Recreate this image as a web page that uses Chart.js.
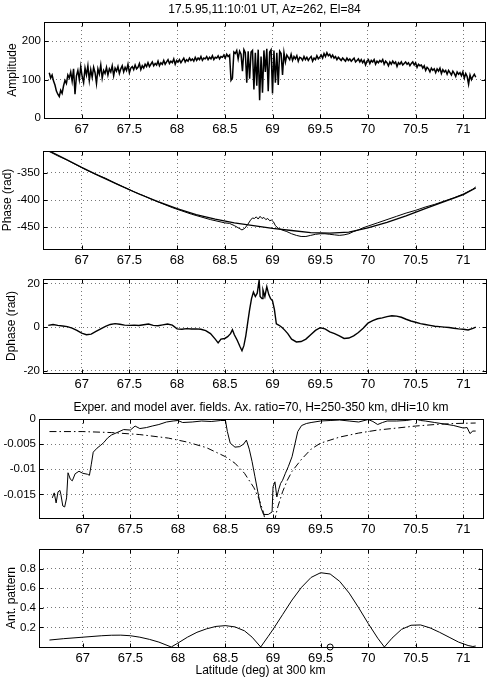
<!DOCTYPE html>
<html>
<head>
<meta charset="utf-8">
<title>Amplitude / phase / field / antenna pattern</title>
<script src="https://cdn.jsdelivr.net/npm/chart.js@4.4.1/dist/chart.umd.min.js"></script>
<style>
  html, body { margin: 0; padding: 0; background: #fff; }
  #figure { position: relative; width: 493px; height: 681px; background: #fff; overflow: hidden; }
  #figure canvas { position: absolute; left: 0; }
</style>
</head>
<body>
<div id="figure">
  <canvas id="ampChart" width="493" height="140" style="top:0px"></canvas>
  <canvas id="phaseChart" width="493" height="130" style="top:140px"></canvas>
  <canvas id="dphaseChart" width="493" height="130" style="top:270px"></canvas>
  <canvas id="fieldChart" width="493" height="140" style="top:400px"></canvas>
  <canvas id="antChart" width="493" height="141" style="top:540px"></canvas>
</div>
<script>
/* ~~~~~~~~~~ DATA ~~~~~~~~~~*/

const latTicks = [67, 67.5, 68, 68.5, 69, 69.5, 70, 70.5, 71];

// amplitude, sampled evenly from ampLatStart to ampLatEnd
const ampLatStart = 66.66;
const ampLatEnd = 71.13;
const ampValues = [
  118, 104, 112, 96, 86, 70, 62, 56, 72, 64,
  84, 98, 90, 112, 104, 120, 96, 128, 62, 110,
  124, 100, 134, 108, 92, 130, 112, 136, 98, 126,
  106, 132, 118, 90, 128, 114, 138, 104, 124, 116,
  132, 112, 128, 120, 136, 110, 130, 122, 134, 116,
  128, 136, 120, 132, 124, 140, 118, 130, 134, 126,
  138, 128, 132, 142, 126, 136, 130, 140, 134, 144,
  134, 140, 146, 136, 142, 138, 148, 136, 144, 140,
  150, 140, 146, 152, 142, 148, 144, 154, 140, 150,
  146, 152, 144, 150, 156, 146, 152, 148, 156, 150,
  154, 148, 158, 150, 156, 152, 160, 150, 156, 154,
  160, 152, 158, 154, 162, 152, 158, 156, 162, 154,
  160, 158, 164, 156, 166, 160, 164, 98, 104, 172,
  168, 176, 154, 174, 166, 122, 178, 170, 92, 174,
  102, 172, 176, 74, 170, 84, 178, 46, 160, 66,
  176, 120, 180, 70, 172, 178, 64, 176, 92, 170,
  86, 174, 168, 112, 170, 146, 164, 158, 152, 166,
  150, 160, 154, 162, 148, 158, 156, 150, 160, 152,
  158, 150, 156, 160, 148, 156, 152, 162, 154, 158,
  164, 156, 168, 160, 170, 162, 166, 158, 164, 156,
  160, 152, 158, 154, 150, 156, 152, 148, 156, 150,
  154, 148, 152, 156, 146, 150, 154, 146, 152, 144,
  150, 138, 148, 152, 142, 150, 146, 152, 140, 148,
  144, 150, 146, 152, 140, 148, 144, 136, 146, 140,
  148, 142, 146, 134, 144, 140, 146, 138, 142, 146,
  140, 144, 136, 142, 146, 138, 144, 132, 140, 136,
  138, 130, 136, 124, 132, 128, 120, 130, 124, 128,
  118, 128, 122, 130, 116, 126, 120, 124, 114, 124,
  118, 112, 122, 116, 108, 120, 114, 118, 110, 120,
  104, 116, 108, 88, 112, 100, 108, 114, 106
];
const ampTicks = [0, 100, 200];

const phaseLat = [
  66.65, 66.75, 66.85, 66.95, 67.05, 67.15, 67.25, 67.35, 67.45, 67.55,
  67.65, 67.75, 67.85, 67.95, 68.05, 68.15, 68.25, 68.35, 68.45, 68.5,
  68.55, 68.6, 68.65, 68.68, 68.71, 68.74, 68.77, 68.79, 68.81, 68.83,
  68.85, 68.87, 68.89, 68.91, 68.93, 68.95, 68.97, 68.99, 69.01, 69.03,
  69.06, 69.1, 69.15, 69.2, 69.25, 69.3, 69.35, 69.4, 69.45, 69.5,
  69.55, 69.6, 69.65, 69.7, 69.75, 69.8, 69.85, 69.9, 69.95, 70.0,
  70.1, 70.2, 70.3, 70.4, 70.5, 70.6, 70.7, 70.8, 70.9, 71.0,
  71.1, 71.13
];
const phaseMeasured = [
  -310, -319, -327, -336, -345, -353, -360, -369, -377, -385,
  -392, -400, -407, -414, -420, -426, -431, -436, -440, -442,
  -443, -447, -452, -455, -452, -445, -437, -433, -434, -431,
  -435, -430, -434, -432, -436, -434, -438, -437, -440, -447,
  -452, -455, -458, -462, -465, -467, -467, -465, -463, -462,
  -462, -463, -464, -465, -464, -462, -458, -455, -451, -448,
  -442, -436, -430, -424, -419, -413, -408, -402, -396, -389,
  -380, -376
];
const phaseModelLat = [
  66.65, 66.8, 67.0, 67.2, 67.4, 67.6, 67.8, 68.0, 68.2, 68.4,
  68.6, 68.8, 69.0, 69.2, 69.4, 69.6, 69.8, 70.0, 70.2, 70.4,
  70.6, 70.8, 71.0, 71.13
];
const phaseModel = [
  -309, -322, -340, -357, -373, -389, -403, -416, -427, -435,
  -442, -447, -452, -456, -460, -461, -459, -451, -441, -429,
  -416, -403, -390, -378
];
const phaseTicks = [-450, -400, -350];

const dphaseLat = [
  66.65, 66.7, 66.75, 66.8, 66.85, 66.9, 66.95, 67.0, 67.05, 67.1,
  67.15, 67.2, 67.25, 67.3, 67.35, 67.4, 67.45, 67.5, 67.55, 67.6,
  67.65, 67.7, 67.75, 67.8, 67.85, 67.9, 67.95, 68.0, 68.05, 68.1,
  68.15, 68.2, 68.25, 68.3, 68.35, 68.4, 68.43, 68.46, 68.5, 68.53,
  68.56, 68.58, 68.6, 68.63, 68.66, 68.68, 68.7, 68.72, 68.74, 68.76,
  68.78, 68.8, 68.82, 68.84, 68.86, 68.87, 68.89, 68.9, 68.92, 68.94,
  68.96, 68.98, 69.0, 69.02, 69.04, 69.06, 69.08, 69.1, 69.13, 69.16,
  69.2, 69.25, 69.3, 69.35, 69.4, 69.45, 69.5, 69.55, 69.6, 69.65,
  69.7, 69.75, 69.8, 69.85, 69.9, 69.95, 70.0, 70.05, 70.1, 70.15,
  70.2, 70.25, 70.3, 70.35, 70.4, 70.45, 70.5, 70.55, 70.6, 70.65,
  70.7, 70.75, 70.8, 70.85, 70.9, 70.95, 71.0, 71.05, 71.1, 71.13
];
const dphaseValues = [
  0.8, 1.2, 0.8, 0.5, 0.2, -0.5, -1.5, -2.8, -3.5, -3.2,
  -2, -0.8, 0.3, 1.2, 1.6, 1.3, 0.9, 0.8, 0.9, 0.7,
  1.1, 1.4, 0.8, 0.6, 1, 1.4, 0.9, -0.8, -1, -0.7,
  -0.9, -0.8, -1, -1.6, -3, -5.5, -7.2, -5.5, -5.2, -4.4,
  -3, -1.2, -3.5, -6, -9, -10.8, -8.5, -4, 2, 8,
  13, 16, 14, 15.5, 21.5, 14, 13, 17, 14, 18.5,
  15, 13, 12, 8, 1.5, 1, 0.5, -0.2, -1.5, -3,
  -5.5, -6.8, -6.6, -5.5, -3.5, -1.5, -0.3, -0.8, -2.2, -3,
  -4, -5.2, -5, -4, -2.5, -0.5, 1.8, 3, 3.8, 4.2,
  4.8, 5.2, 5, 4.5, 3.6, 2.8, 2.2, 1.6, 1.2, 0.8,
  0.4, 0.2, 0, -0.2, -0.5, -0.8, -1, -1.3, -0.6, 0
];
const dphaseTicks = [-20, 0, 20];

const fieldLat = [
  66.68, 66.7, 66.72, 66.74, 66.76, 66.77, 66.79, 66.81, 66.83, 66.845,
  66.87, 66.89, 66.92, 66.96, 67.0, 67.05, 67.07, 67.09, 67.11, 67.15,
  67.19, 67.22, 67.26, 67.3, 67.36, 67.43, 67.5, 67.55, 67.6, 67.67,
  67.73, 67.8, 67.88, 67.95, 68.0, 68.05, 68.15, 68.25, 68.35, 68.45,
  68.5, 68.52, 68.55, 68.6, 68.65, 68.69, 68.72, 68.75, 68.78, 68.81,
  68.84, 68.87, 68.9, 68.95, 68.99, 69.0, 69.02, 69.04, 69.06, 69.08,
  69.1, 69.13, 69.16, 69.2, 69.23, 69.26, 69.3, 69.35, 69.4, 69.5,
  69.6, 69.7, 69.8, 69.9, 70.0, 70.05, 70.1, 70.15, 70.2, 70.3,
  70.4, 70.5, 70.55, 70.6, 70.7, 70.8, 70.9, 71.0, 71.04, 71.07,
  71.1, 71.13
];
const fieldMeasured = [
  -0.0157, -0.0147, -0.0167, -0.0145, -0.0142, -0.015, -0.0173, -0.0175, -0.0157, -0.0107,
  -0.012, -0.0123, -0.0109, -0.0104, -0.0108, -0.011, -0.0112, -0.009, -0.0066, -0.0058,
  -0.0052, -0.0047, -0.0038, -0.0032, -0.0027, -0.0021, -0.0022, -0.0014, -0.0019, -0.0017,
  -0.0014, -0.0011, -0.0006, -0.0004, -0.0003, -0.0007, -0.0006, -0.0004, -0.0005, -0.0003,
  -0.0003, -0.0025, -0.0048, -0.0056, -0.0055, -0.005, -0.0042, -0.006, -0.0085, -0.0115,
  -0.0145, -0.0175, -0.019, -0.019, -0.0185, -0.0135, -0.0125, -0.0155, -0.014, -0.0128,
  -0.0122, -0.0108, -0.0095, -0.0075, -0.005, -0.0025, -0.0013, -0.0009, -0.0007, -0.0004,
  -0.0003, -0.0002, -0.0004, -0.0006, -0.0001, -0.0005, -0.0011, -0.0007, -0.0004, -0.0004,
  -0.0003, 0, -0.0003, -0.0004, -0.0007, -0.001, -0.0013, -0.0018, -0.0017, -0.0029,
  -0.0024, -0.0024
];
const fieldModelLat = [
  66.65, 67.0, 67.3, 67.6, 67.9, 68.1, 68.3, 68.5, 68.6, 68.7,
  68.8, 68.85, 68.9, 68.95, 69.0, 69.05, 69.1, 69.15, 69.2, 69.3,
  69.4, 69.5, 69.7, 69.9, 70.1, 70.3, 70.5, 70.7, 70.9, 71.13
];
const fieldModel = [
  -0.0025, -0.0025, -0.0027, -0.0031, -0.0038, -0.0046, -0.0057, -0.0075, -0.0088, -0.0108,
  -0.0137, -0.0158, -0.0186, -0.0235, -0.0215, -0.0175, -0.0145, -0.0122, -0.0104, -0.008,
  -0.006, -0.0048, -0.0036, -0.0028, -0.0022, -0.0018, -0.0014, -0.0011, -0.0009, -0.0008
];
const fieldTicks = [-0.015, -0.01, -0.005, 0];

const antLat = [
  66.65, 66.8, 67.0, 67.2, 67.3, 67.4, 67.5, 67.6, 67.7, 67.8,
  67.93, 68.0, 68.1, 68.2, 68.3, 68.4, 68.5, 68.6, 68.7, 68.78,
  68.87, 68.95, 69.0, 69.1, 69.2, 69.3, 69.4, 69.5, 69.6, 69.7,
  69.8, 69.9, 70.0, 70.1, 70.17, 70.25, 70.35, 70.45, 70.55, 70.65,
  70.75, 70.85, 70.95, 71.05, 71.1, 71.13
];
const antValues = [
  0.071, 0.085, 0.1, 0.115, 0.12, 0.121, 0.115, 0.1, 0.078, 0.05,
  0, 0.04, 0.1, 0.15, 0.185, 0.21, 0.218, 0.205, 0.165, 0.1,
  0, 0.11, 0.18, 0.33, 0.48, 0.61, 0.71, 0.758, 0.745, 0.67,
  0.55, 0.4, 0.24, 0.09, 0, 0.09, 0.18, 0.222, 0.225, 0.195,
  0.15, 0.1, 0.05, 0.015, 0.005, 0.01
];
const antMarkerLat = [69.6];
const antMarkerValue = [0];
const antTicks = [0.2, 0.4, 0.6, 0.8];

/* ~~~~~~~~~~ HELPERS ~~~~~~~~~~*/

Chart.defaults.font.family = "'Liberation Sans', Arial, Helvetica, sans-serif";
Chart.defaults.color = '#000';

const toPoints = (lats, vals) => lats.map((lat, i) => ({ x: lat, y: vals[i] }));

const evenPoints = (start, end, vals) => {
  const step = (end - start) / (vals.length - 1);
  return vals.map((v, i) => ({ x: start + i * step, y: v }));
};

// matlab style box round the plot area, with small inward ticks
const framePlugin = {
  id: 'matlabFrame',
  afterDraw(chart) {
    const ctx = chart.ctx;
    const a = chart.chartArea;
    const xs = chart.scales.x;
    const ys = chart.scales.y;
    const l = Math.round(a.left) + 0.5, r = Math.round(a.right) + 0.5;
    const t = Math.round(a.top) + 0.5, b = Math.round(a.bottom) + 0.5;
    ctx.save();
    ctx.setLineDash([]);
    ctx.strokeStyle = '#000';
    ctx.lineWidth = 1;
    ctx.strokeRect(l, t, r - l, b - t);
    ctx.beginPath();
    xs.ticks.forEach((tk) => {
      const px = Math.round(xs.getPixelForValue(tk.value)) + 0.5;
      ctx.moveTo(px, b); ctx.lineTo(px, b - 4);
      ctx.moveTo(px, t); ctx.lineTo(px, t + 4);
    });
    ys.ticks.forEach((tk) => {
      const py = Math.round(ys.getPixelForValue(tk.value)) + 0.5;
      ctx.moveTo(l, py); ctx.lineTo(l + 4, py);
      ctx.moveTo(r, py); ctx.lineTo(r - 4, py);
    });
    ctx.stroke();
    ctx.restore();
  }
};

const lineSet = (data, width, dash) => ({
  data,
  showLine: true,
  borderColor: '#000',
  borderWidth: width,
  borderDash: dash || [],
  pointRadius: 0,
  tension: 0,
  clip: 0,
});

function makePanel(id, p) {
  return new Chart(document.getElementById(id), {
    type: 'scatter',
    data: { datasets: p.datasets },
    options: {
      responsive: false,
      animation: false,
      events: [],
      layout: { padding: { top: p.padTop, right: 493 - p.right, left: 0, bottom: 0 } },
      plugins: {
        legend: { display: false },
        tooltip: { enabled: false },
        title: p.title
          ? { display: true, text: p.title, fullSize: false, color: '#000',
              font: { size: 12, weight: 'normal' }, padding: p.titlePad }
          : { display: false },
      },
      scales: {
        x: {
          type: 'linear',
          min: p.xMin,
          max: p.xMax,
          afterBuildTicks: (axis) => { axis.ticks = latTicks.map((v) => ({ value: v })); },
          afterFit: (axis) => { axis.height = p.xAxisHeight; axis.paddingLeft = 0; axis.paddingRight = 0; },
          ticks: { autoSkip: false, maxRotation: 0, padding: 4, font: { size: 13 }, callback: (v) => String(v) },
          grid: { color: '#777', lineWidth: 1, drawTicks: false },
          border: { display: false, dash: [1, 3] },
          title: p.xTitle
            ? { display: true, text: p.xTitle, font: { size: 12 }, padding: { top: 0, bottom: 3 } }
            : { display: false },
        },
        y: {
          type: 'linear',
          min: p.yMin,
          max: p.yMax,
          afterBuildTicks: (axis) => { axis.ticks = p.yTicks.map((v) => ({ value: v })); },
          afterFit: (axis) => { axis.width = p.left; axis.paddingTop = 0; axis.paddingBottom = 0; },
          ticks: { padding: 3, font: { size: 11.5 }, callback: (v) => String(v) },
          grid: { color: '#777', lineWidth: 1, drawTicks: false },
          border: { display: false, dash: [1, 3] },
          title: p.yTitle
            ? { display: true, text: p.yTitle, font: { size: 12 }, padding: { top: p.yTitlePad, bottom: 0 } }
            : { display: false },
        },
      },
    },
    plugins: [framePlugin],
  });
}

/* ~~~~~~~~~~ PANELS ~~~~~~~~~~*/

makePanel('ampChart', {
  title: '17.5.95,11:10:01 UT, Az=262, El=84',
  titlePad: { top: 2, bottom: 5.6 },
  padTop: 0, left: 44, right: 485, xAxisHeight: 22,
  xMin: 66.605, xMax: 71.227, yMin: 0, yMax: 250, yTicks: ampTicks,
  yTitle: 'Amplitude', yTitlePad: 5.5,
  datasets: [lineSet(evenPoints(ampLatStart, ampLatEnd, ampValues), 1.5)],
});

makePanel('phaseChart', {
  padTop: 11, left: 43, right: 485, xAxisHeight: 21,
  xMin: 66.595, xMax: 71.227, yMin: -490, yMax: -310, yTicks: phaseTicks,
  yTitle: 'Phase (rad)', yTitlePad: 0,
  datasets: [
    lineSet(toPoints(phaseModelLat, phaseModel), 1.3),
    lineSet(toPoints(phaseLat, phaseMeasured), 1),
  ],
});

makePanel('dphaseChart', {
  padTop: 9, left: 43, right: 486, xAxisHeight: 27,
  xMin: 66.595, xMax: 71.237, yMin: -21, yMax: 22, yTicks: dphaseTicks,
  yTitle: 'Dphase (rad)', yTitlePad: 4.5,
  datasets: [lineSet(toPoints(dphaseLat, dphaseValues), 1.4)],
});

makePanel('fieldChart', {
  title: 'Exper. and model aver. fields. Ax. ratio=70, H=250-350 km, dHi=10 km',
  titlePad: { top: 0, bottom: 4.6 },
  padTop: 0, left: 39, right: 483, xAxisHeight: 22,
  xMin: 66.54, xMax: 71.207, yMin: -0.0197, yMax: 0, yTicks: fieldTicks,
  datasets: [
    lineSet(toPoints(fieldLat, fieldMeasured), 1),
    lineSet(toPoints(fieldModelLat, fieldModel), 1, [7, 3, 1.5, 3]),
  ],
});

makePanel('antChart', {
  padTop: 9, left: 39, right: 482, xAxisHeight: 34,
  xMin: 66.54, xMax: 71.196, yMin: 0, yMax: 1, yTicks: antTicks,
  yTitle: 'Ant. pattern', yTitlePad: 4.5,
  xTitle: 'Latitude (deg) at 300 km',
  datasets: [
    lineSet(toPoints(antLat, antValues), 1),
    {
      data: toPoints(antMarkerLat, antMarkerValue),
      showLine: false,
      pointRadius: 3,
      pointStyle: 'circle',
      borderColor: '#000',
      backgroundColor: 'rgba(0,0,0,0)',
      borderWidth: 1,
      clip: false,
    },
  ],
});
</script>
</body>
</html>
